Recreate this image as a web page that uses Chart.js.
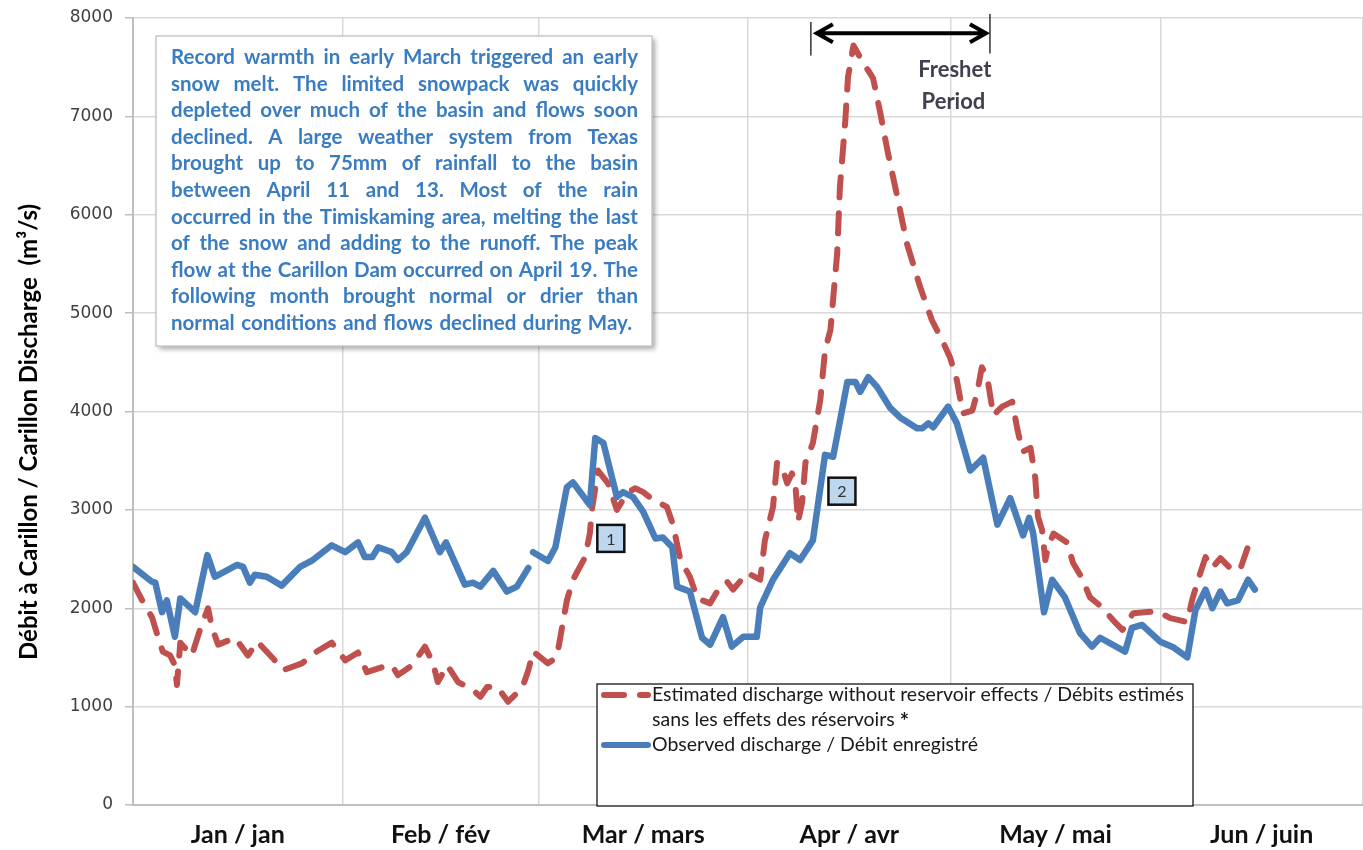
<!DOCTYPE html>
<html>
<head>
<meta charset="utf-8">
<script src="https://cdn.jsdelivr.net/npm/chart.js@4"></script>
<style>
body { margin: 0; background: #fff; }
canvas { display: block; }
</style>
</head>
<body>
<canvas id="grafico" width="1363" height="850"></canvas>
<script>
// day of year, 0 = Jan 1 (2012)
var obsDays = [0, 2.8, 3.3, 4.3, 5, 6.2, 7, 9.2, 11, 12.1, 15.4, 16.3, 17.3, 18, 19.8, 22, 24.7, 26.6, 29.4, 31.4,
    33.3, 34.3, 35.4, 36.3, 38.3, 39.2, 40.5, 43.2, 45.4, 46.3, 49.1, 50.3, 51.4, 53.3, 55.3, 56.8, 58.5, 58.9,
    59.2, 61.4, 62.5, 64.2, 65.1, 67.6, 68.4, 69.6, 71.6, 72.5, 74, 75.5, 77.3, 78.4, 79.8, 80.5, 82.4, 84.2,
    85.4, 87.3, 88.6, 90.3, 92.3, 92.8, 94.7, 97.2, 98.7, 100.6, 102.4, 103.6, 105.7, 106.9, 107.6, 108.8,
    110.1, 112, 113.5, 116, 116.8, 117.7, 118.4, 120.6, 121.9, 123.9, 125.8, 127.9, 129.8, 131.7, 132.6,
    133.2, 134.8, 136, 137.9, 140.1, 141.9, 143.1, 146.8, 147.8, 149.3, 152, 154, 156, 157.2, 158.7, 159.7,
    160.9, 161.9, 163.5, 165, 166];
var obsValues = [2420, 2270, 2260, 1960, 2080, 1710, 2100, 1960, 2540, 2320, 2440, 2420, 2260, 2340, 2320, 2230, 2420, 2490, 2640, 2570,
    2670, 2520, 2520, 2620, 2570, 2490, 2570, 2920, 2570, 2670, 2240, 2260, 2220, 2380, 2170, 2220, 2410, null,
    2570, 2480, 2620, 3230, 3280, 3050, 3730, 3680, 3130, 3180, 3130, 2980, 2710, 2720, 2620, 2220, 2170, 1700,
    1630, 1910, 1610, 1710, 1710, 2010, 2290, 2560, 2490, 2690, 3560, 3540, 4300, 4300, 4200, 4350,
    4250, 4040, 3940, 3830, 3830, 3880, 3840, 4050, 3880, 3400, 3530, 2850, 3120, 2740, 2920,
    2760, 1960, 2290, 2110, 1750, 1610, 1700, 1560, 1800, 1830, 1660, 1600, 1500, 1980, 2190, 2000,
    2170, 2050, 2080, 2290, 2190];

var estDays = [0, 1.5, 2.8, 3.7, 4.4, 5.5, 6.2, 6.5, 7, 8.7, 9.9, 11.1, 11.7, 12.6, 15.1, 17, 18.4, 20.6, 22.2, 25,
    27.2, 29.4, 31.4, 33.3, 34.6, 36.8, 38.3, 39.2, 41.3, 43.2, 44.4, 45.1, 46.5, 48.1, 50.3, 51.4, 52.4, 53.9,
    55.5, 57.6, 58.5, 59.2, 61.4, 62.7, 64.2, 65.1, 66.9, 67.6, 67.9, 68.8, 70.3, 71.6, 73.1, 74.3, 75.5, 77,
    79, 79.9, 81, 82.4, 83.5, 85.4, 86.6, 87.9, 88.8, 90.9, 92.8, 93.5, 94.7, 95.3, 96, 96.8, 97.5, 98, 98.4,
    99, 99.5, 100.6, 101.7, 102.4, 103.2, 104.2, 104.6, 105.4, 105.8, 106.6, 108, 109.5, 110.5, 111.7, 113.1,
    114.5, 116.5, 118.2, 119.9, 120.9, 121.9, 122.8, 124.2, 124.9, 125.6, 126.4, 127.3, 128.6, 130.1, 130.8,
    131.6, 132.8, 133.5, 133.9, 134.5, 135, 135.4, 136.2, 138.2, 139.1, 140.4, 141.6, 143.4, 145, 146.4, 148,
    151.5, 153.5, 156, 156.7, 157.6, 158.7, 159.7, 160.9, 162.3, 163.8, 164.9];
var estValues = [2260, 2060, 1910, 1710, 1560, 1520, 1420, 1220, 1650, 1520, 1780, 2000, 1800, 1630, 1700, 1520, 1660, 1500, 1370, 1440,
    1560, 1650, 1470, 1550, 1350, 1400, 1420, 1320, 1420, 1610, 1440, 1250, 1420, 1250, 1170, 1100, 1200, 1200,
    1050, 1190, 1370, 1560, 1440, 1500, 2080, 2290, 2520, 2760, 3000, 3400, 3270, 3000, 3170, 3220, 3180, 3100,
    3030, 2850, 2490, 2320, 2100, 2050, 2190, 2270, 2190, 2360, 2290, 2690, 3030, 3480, 3440, 3270, 3370, 3270, 2880,
    3070, 3480, 3680, 4120, 4620, 4830, 5610, 6280, 6960, 7400, 7720, 7550, 7390, 7060, 6630, 6180,
    5710, 5260, 4930, 4700, 4550, 4320, 3980, 4010, 4190, 4450, 4350, 3960, 4050, 4100, 3840,
    3590, 3630, 3330, 2930, 2800, 2490, 2620, 2760, 2670, 2460, 2310, 2110, 2010, 1880, 1780, 1950,
    1970, 1900, 1860, 2080, 2290, 2520, 2410, 2510, 2410, 2390, 2610];

var monthStarts = [0, 31, 60, 91, 121, 152, 182];
var monthLabels = ['Jan / jan', 'Feb / fév', 'Mar / mars', 'Apr / avr', 'May / mai', 'Jun / juin'];
var yTicks = [0, 1000, 2000, 3000, 4000, 5000, 6000, 7000, 8000];
var yTitle = 'Débit à Carillon / Carillon Discharge  (m³/s)';

var freshet = [100.3, 126.8];
var callouts = [{ text: '1', day: 70.7, value: 2710 }, { text: '2', day: 104.9, value: 3190 }];

var noteLines = [
    'Record warmth in early March triggered an early',
    'snow melt. The limited snowpack was quickly',
    'depleted over much of the basin and flows soon',
    'declined. A large weather system from Texas',
    'brought up to 75mm of rainfall to the basin',
    'between April 11 and 13. Most of the rain',
    'occurred in the Timiskaming area, melting the last',
    'of the snow and adding to the runoff. The peak',
    'flow at the Carillon Dam occurred on April 19. The',
    'following month brought normal or drier than',
    'normal conditions and flows declined during May.'
];

var monthMids = [];
for (i = 0; i < monthLabels.length; i++) {
    monthMids.push((monthStarts[i] + monthStarts[i + 1]) / 2);
}

function pontos(days, values) {
    var out = [];
    for (i = 0; i < days.length; i++) out.push({ x: days[i], y: values[i] });
    return out;
}

function justify(ctx, text, left, right, baseline) {
    var words = text.split(' ');
    var widths = words.map(w => ctx.measureText(w).width);
    var total = widths.reduce((a, b) => a + b, 0);
    var space = ctx.measureText(' ').width;
    var avail = right - left;
    var sc = 1;
    var gap = (avail - total) / (words.length - 1);
    if (gap < space) {
        sc = avail / (total + space * (words.length - 1));
        gap = space;
    }
    ctx.save();
    ctx.translate(left, baseline);
    ctx.scale(sc, 1);
    var cx = 0;
    words.forEach((w, k) => { ctx.fillText(w, cx, 0); cx += widths[k] + gap; });
    ctx.restore();
}

var extras = {
    id: 'extras',
    afterDraw(chart) {
        var ctx = chart.ctx;
        var xs = chart.scales.x, ys = chart.scales.y;
        ctx.save();

        // y axis title
        ctx.save();
        ctx.translate(29, 432);
        ctx.rotate(-Math.PI / 2);
        ctx.fillStyle = '#000';
        ctx.font = 'bold 24px Lato';
        ctx.textAlign = 'center';
        ctx.textBaseline = 'middle';
        ctx.fillText(yTitle, 0, 0);
        ctx.restore();

        // note box
        ctx.shadowColor = 'rgba(0,0,0,0.35)';
        ctx.shadowOffsetX = 3;
        ctx.shadowOffsetY = 3;
        ctx.shadowBlur = 5;
        ctx.fillStyle = '#fff';
        ctx.fillRect(156, 36, 496, 310);
        ctx.shadowColor = 'transparent';
        ctx.strokeStyle = '#C8C8C8';
        ctx.lineWidth = 1.5;
        ctx.strokeRect(156, 36, 496, 310);
        ctx.fillStyle = '#3A7CC1';
        ctx.font = 'bold 20.5px Lato';
        ctx.textBaseline = 'alphabetic';
        ctx.textAlign = 'left';
        noteLines.forEach((l, k) => {
            var r = k == noteLines.length - 1 ? 632 : 638;
            justify(ctx, l, 171, r, 64 + k * 26.6);
        });

        // freshet arrow
        var fx0 = xs.getPixelForValue(freshet[0]);
        var fx1 = xs.getPixelForValue(freshet[1]);
        var fy = ys.getPixelForValue(7845);
        ctx.strokeStyle = '#333';
        ctx.lineWidth = 1.5;
        ctx.beginPath();
        ctx.moveTo(fx0, ys.getPixelForValue(7960)); ctx.lineTo(fx0, ys.getPixelForValue(7620));
        ctx.moveTo(fx1, ys.getPixelForValue(8040)); ctx.lineTo(fx1, ys.getPixelForValue(7640));
        ctx.stroke();
        ctx.strokeStyle = '#000';
        ctx.lineWidth = 4;
        ctx.lineJoin = 'miter';
        ctx.beginPath();
        ctx.moveTo(fx0 + 6, fy); ctx.lineTo(fx1 - 4, fy);
        ctx.moveTo(fx0 + 22, fy - 9); ctx.lineTo(fx0 + 6, fy); ctx.lineTo(fx0 + 22, fy + 9);
        ctx.moveTo(fx1 - 20, fy - 9); ctx.lineTo(fx1 - 4, fy); ctx.lineTo(fx1 - 20, fy + 9);
        ctx.stroke();
        ctx.fillStyle = '#404050';
        ctx.font = 'bold 22px Lato';
        ctx.textAlign = 'center';
        ctx.textBaseline = 'middle';
        ctx.fillText('Freshet', xs.getPixelForValue(121.6), ys.getPixelForValue(7475));
        ctx.fillText('Period', xs.getPixelForValue(121.4), ys.getPixelForValue(7150));

        // numbered callouts
        callouts.forEach(c => {
            var cx = xs.getPixelForValue(c.day), cy = ys.getPixelForValue(c.value);
            ctx.fillStyle = '#BDD7EE';
            ctx.fillRect(cx - 13.5, cy - 13.5, 27, 27);
            ctx.strokeStyle = '#111';
            ctx.lineWidth = 2.5;
            ctx.strokeRect(cx - 13.5, cy - 13.5, 27, 27);
            ctx.fillStyle = '#333';
            ctx.font = '16px Lato';
            ctx.fillText(c.text, cx, cy + 1);
        });

        // legend
        var est = chart.data.datasets[0], obs = chart.data.datasets[1];
        ctx.fillStyle = '#fff';
        ctx.fillRect(597, 684, 596, 122);
        ctx.strokeStyle = '#000';
        ctx.lineWidth = 1.2;
        ctx.strokeRect(597, 684, 596, 122);
        ctx.lineCap = 'round';
        ctx.lineWidth = 6;
        ctx.strokeStyle = est.borderColor;
        ctx.setLineDash(est.borderDash);
        ctx.beginPath(); ctx.moveTo(604, 695); ctx.lineTo(648, 695); ctx.stroke();
        ctx.setLineDash([]);
        ctx.strokeStyle = obs.borderColor;
        ctx.beginPath(); ctx.moveTo(604, 745); ctx.lineTo(648, 745); ctx.stroke();
        ctx.fillStyle = '#1a1a1a';
        ctx.textAlign = 'left';
        ctx.font = '19.5px Lato';
        ctx.fillText('Estimated discharge without reservoir effects / Débits estimés', 652, 695, 536);
        ctx.fillText('sans les effets des réservoirs', 652, 720);
        var w = ctx.measureText('sans les effets des réservoirs ').width;
        ctx.font = 'bold 22px Lato';
        ctx.fillText('*', 652 + w, 722);
        ctx.font = '19.5px Lato';
        ctx.fillText('Observed discharge / Débit enregistré', 652, 745);
        ctx.restore();
    }
};

new Chart(document.getElementById('grafico'), {
    type: 'line',
    data: {
        datasets: [{
            label: 'Estimated discharge without reservoir effects / Débits estimés sans les effets des réservoirs *',
            data: pontos(estDays, estValues),
            borderColor: '#C0504D',
            borderWidth: 6,
            borderDash: [20, 16],
            borderCapStyle: 'round',
            borderJoinStyle: 'round',
            pointRadius: 0,
            tension: 0,
            order: 1
        }, {
            label: 'Observed discharge / Débit enregistré',
            data: pontos(obsDays, obsValues),
            borderColor: '#4A7EBB',
            borderWidth: 6.5,
            borderCapStyle: 'round',
            borderJoinStyle: 'round',
            pointRadius: 0,
            tension: 0,
            spanGaps: false,
            order: 0
        }]
    },
    options: {
        responsive: false,
        animation: false,
        devicePixelRatio: 1,
        layout: { padding: { top: 18, right: 0, left: 0, bottom: 0 } },
        plugins: { legend: { display: false }, tooltip: { enabled: false } },
        scales: {
            x: {
                type: 'linear',
                min: 0,
                max: 182,
                afterBuildTicks: function (scale) {
                    var all = monthStarts.concat(monthMids).sort((a, b) => a - b);
                    scale.ticks = all.map(v => ({ value: v }));
                },
                afterFit: function (scale) {
                    scale.height = 45;
                    scale.paddingLeft = 0;
                    scale.paddingRight = 0;
                },
                ticks: {
                    autoSkip: false,
                    maxRotation: 0,
                    padding: 15,
                    color: '#111',
                    font: { family: 'Lato', size: 25, weight: 'bold' },
                    callback: function (v) {
                        var k = monthMids.indexOf(v);
                        return k >= 0 ? monthLabels[k] : '';
                    }
                },
                grid: {
                    drawTicks: false,
                    lineWidth: 1.5,
                    color: function (c) {
                        return c.tick && monthStarts.indexOf(c.tick.value) >= 0 ? '#D9D9D9' : 'rgba(0,0,0,0)';
                    }
                },
                border: { color: '#BFBFBF', width: 2 }
            },
            y: {
                min: 0,
                max: 8000,
                afterBuildTicks: function (scale) {
                    scale.ticks = yTicks.map(v => ({ value: v }));
                },
                afterFit: function (scale) {
                    scale.width = 133;
                    scale.paddingTop = 0;
                    scale.paddingBottom = 0;
                },
                ticks: {
                    padding: 12,
                    color: '#404040',
                    font: { family: 'DejaVu Sans', size: 17 },
                    callback: function (v) { return String(v); }
                },
                grid: {
                    color: '#D9D9D9',
                    lineWidth: 1.5,
                    tickLength: 8,
                    tickColor: '#BFBFBF'
                },
                border: { color: '#BFBFBF', width: 2 },
                title: { display: false }
            }
        }
    },
    plugins: [extras]
});
</script>
</body>
</html>
